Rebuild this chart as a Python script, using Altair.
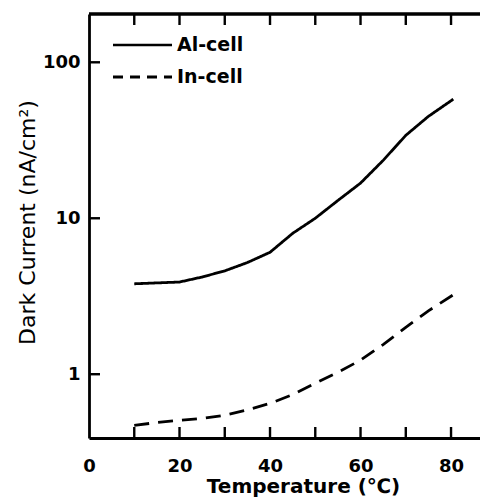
import math
import altair as alt
import pandas as pd

series_names = ["Al-cell", "In-cell"]

al_temp = [10, 15, 20, 25, 30, 35, 40, 45, 50, 55, 60, 65, 70, 75, 80.5]
al_current = [3.8, 3.85, 3.9, 4.2, 4.6, 5.2, 6.05, 8.0, 10.0, 13.0, 16.8, 23.5, 34, 45, 58]

in_temp = [10, 15, 20, 25, 30, 35, 40, 45, 50, 55, 60, 65, 70, 75, 81]
in_current = [0.47, 0.49, 0.507, 0.52, 0.546, 0.59, 0.65, 0.74, 0.875, 1.03, 1.23, 1.55, 2.0, 2.55, 3.3]

x_labels = [0, 20, 40, 60, 80]
x_ticks = [10, 20, 30, 40, 50, 60, 70, 80]
y_ticks = [1, 10, 100]

W, H = 391, 424
FONT = "DejaVu Sans"
TL = 11
XMIN, XMAX = 0, 86.4
YMIN, YMAX = 0.39, 204
# tick length converted from pixels to scale units
fy = 10 ** (TL / H * math.log10(YMAX / YMIN))
dx = TL / W * (XMAX - XMIN)

data = pd.concat([
    pd.DataFrame({"kind": "data", "temp": al_temp, "current": al_current, "series": series_names[0]}),
    pd.DataFrame({"kind": "data", "temp": in_temp, "current": in_current, "series": series_names[1]}),
    pd.DataFrame({"kind": "xtick", "temp": x_ticks}),
    pd.DataFrame({"kind": "ytick", "current": y_ticks}),
    pd.DataFrame({"kind": "legend", "series": series_names}),
], ignore_index=True)

xscale = alt.Scale(domain=[XMIN, XMAX], nice=False, zero=False)
yscale = alt.Scale(type="log", domain=[YMIN, YMAX], nice=False)

xaxis = alt.Axis(
    values=x_labels, ticks=False, domain=True, domainColor="black", domainWidth=2.8,
    grid=False, labelFont=FONT, labelFontSize=18, labelFontWeight="bold",
    labelColor="black", labelPadding=19, labelFlush=False, title="Temperature (℃)",
    titleFont=FONT, titleFontSize=20, titleFontWeight="bold", titleColor="black",
    titleX=214, titleY=48, titleBaseline="middle", titleAlign="center")
yaxis = alt.Axis(
    values=y_ticks, format="~g", ticks=False, domain=True, domainColor="black",
    domainWidth=2.8, grid=False, labelFont=FONT, labelFontSize=18, labelFlush=False,
    labelFontWeight="bold", labelColor="black", labelPadding=9,
    title="Dark Current (nA/cm²)", titleFont=FONT, titleFontSize=22,
    titleFontWeight="normal", titleColor="black", titleX=-62, titleY=208,
    titleBaseline="middle", titleAlign="center")

dash_scale = alt.Scale(domain=series_names, range=[[1, 0], [15, 9]])

base = alt.Chart()

lines = base.mark_line(color="black", strokeWidth=2.8).encode(
    x=alt.X("temp:Q", scale=xscale, axis=xaxis),
    y=alt.Y("current:Q", scale=yscale, axis=yaxis),
    strokeDash=alt.StrokeDash("series:N", scale=dash_scale, legend=None),
    detail="series:N",
).transform_filter(alt.datum.kind == "data")

# inward tick marks drawn as short two-point line segments
top_ticks = base.mark_line(color="black", strokeWidth=2.4).transform_filter(
    alt.datum.kind == "xtick"
).transform_calculate(ta=f"{YMAX / fy}", tb=f"{YMAX}").transform_fold(
    ["ta", "tb"], as_=["end", "yv"]
).encode(
    x=alt.X("temp:Q", scale=xscale, axis=xaxis),
    y=alt.Y("yv:Q", scale=yscale, axis=yaxis), detail="temp:N")
bottom_ticks = base.mark_line(color="black", strokeWidth=2.4).transform_filter(
    alt.datum.kind == "xtick"
).transform_calculate(ba=f"{YMIN}", bb=f"{YMIN * fy}").transform_fold(
    ["ba", "bb"], as_=["end", "yv"]
).encode(
    x=alt.X("temp:Q", scale=xscale, axis=xaxis),
    y=alt.Y("yv:Q", scale=yscale, axis=yaxis), detail="temp:N")
left_ticks = base.mark_line(color="black", strokeWidth=2.4).transform_filter(
    alt.datum.kind == "ytick"
).transform_calculate(la=f"{XMIN}", lb=f"{XMIN + dx}").transform_fold(
    ["la", "lb"], as_=["end", "xv"]
).encode(
    y=alt.Y("current:Q", scale=yscale, axis=yaxis),
    x=alt.X("xv:Q", scale=xscale, axis=xaxis), detail="current:N", order="xv:Q")

top_border = base.mark_rule(color="black", strokeWidth=2.8).encode(
    x=alt.value(0), x2=alt.value(W), y=alt.value(0)
).transform_filter(alt.datum.kind == "legend")

leg_al_line = base.mark_rule(color="black", strokeWidth=2.4).encode(
    x=alt.value(24), x2=alt.value(83), y=alt.value(31)).transform_filter(
    (alt.datum.kind == "legend") & (alt.datum.series == series_names[0]))
leg_in_line = base.mark_rule(color="black", strokeWidth=2.8, strokeDash=[10, 7]).encode(
    x=alt.value(24), x2=alt.value(83), y=alt.value(63)).transform_filter(
    (alt.datum.kind == "legend") & (alt.datum.series == series_names[1]))
leg_al_text = base.mark_text(
    align="left", baseline="middle", font=FONT, fontSize=19, fontWeight="bold", color="black"
).encode(x=alt.value(88), y=alt.value(31), text="series:N").transform_filter(
    (alt.datum.kind == "legend") & (alt.datum.series == series_names[0]))
leg_in_text = base.mark_text(
    align="left", baseline="middle", font=FONT, fontSize=19, fontWeight="bold", color="black"
).encode(x=alt.value(88), y=alt.value(63), text="series:N").transform_filter(
    (alt.datum.kind == "legend") & (alt.datum.series == series_names[1]))

chart = alt.layer(
    lines, top_ticks, bottom_ticks, left_ticks, top_border,
    leg_al_line, leg_in_line, leg_al_text, leg_in_text, data=data
).properties(
    width=W, height=H,
    autosize=alt.AutoSizeParams(type="none"),
    padding={"left": 81, "top": 6, "right": 0, "bottom": 64},
).configure_view(stroke=None).configure(background="white")

chart.save("out.html", embed_options={"renderer": "svg", "actions": False})
